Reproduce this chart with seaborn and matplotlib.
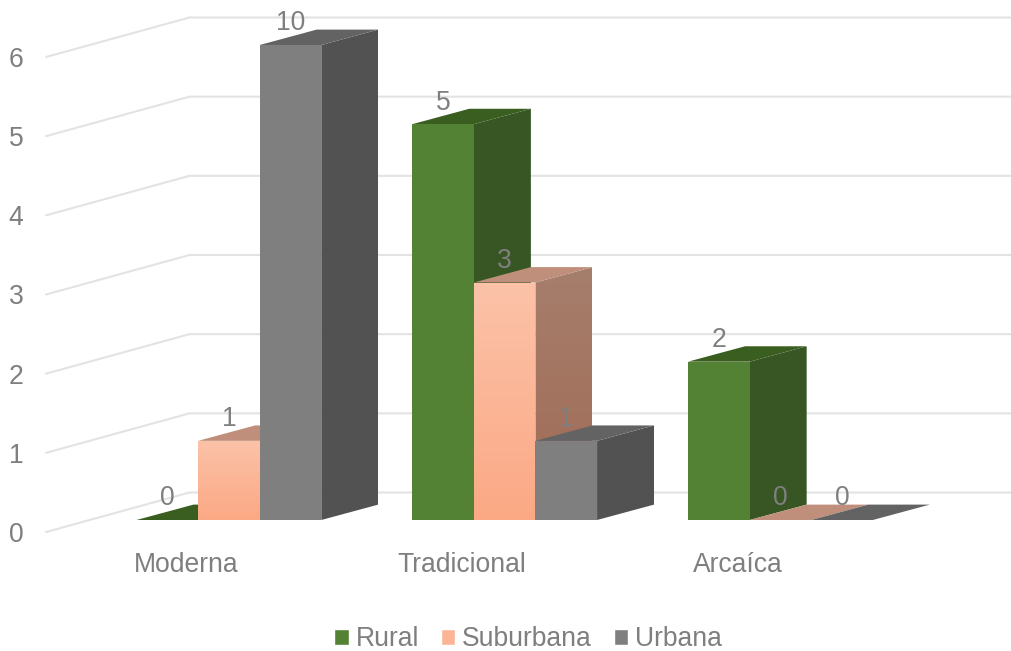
"""Excel-style 3D clustered column chart: Moderna / Tradicional / Arcaica."""
import matplotlib

matplotlib.use("Agg")
import matplotlib.pyplot as plt
import numpy as np
import pandas as pd
import seaborn as sns
from matplotlib.colors import to_rgb
from matplotlib.patches import Polygon
from matplotlib.transforms import ScaledTranslation

categories = ["Moderna", "Tradicional", "Arcaíca"]
series_names = ["Rural", "Suburbana", "Urbana"]
rural = [0, 5, 2]
suburbana = [1, 3, 0]
urbana = [10, 1, 0]
y_ticks = [0, 1, 2, 3, 4, 5, 6]
y_max = 6

TEXT = "#7f7f7f"
GRID = "#e3e3e3"
FONT_SIZE = 19.1
# front top, front bottom, side top, side bottom, roof
FACES = {
    "Rural": ("#548235", "#548235", "#375623", "#375623", "#3a5d20"),
    "Suburbana": ("#fbc2a8", "#fba985", "#a67e6c", "#a06b55", "#bf8f7b"),
    "Urbana": ("#7f7f7f", "#7f7f7f", "#525252", "#525252", "#636363"),
}

sns.set_theme(style="white")
plt.rcParams["font.family"] = ["Liberation Sans", "DejaVu Sans"]
plt.rcParams["font.size"] = FONT_SIZE

rows = []
for name, values in zip(series_names, [rural, suburbana, urbana]):
    for cat, val in zip(categories, values):
        rows.append({"category": cat, "series": name, "value": val})
df = pd.DataFrame(rows)
# the value axis stops at 6, taller bars are cut there but keep their label
df["drawn"] = df["value"].clip(upper=y_max)

fig = plt.figure(figsize=(10.11, 6.51), dpi=100)
ax = fig.add_axes([40 / 1011, (651 - 520) / 651, 971 / 1011, 475 / 651])
sns.barplot(
    data=df,
    x="category",
    y="drawn",
    hue="series",
    order=categories,
    hue_order=series_names,
    palette={"Rural": "#548235", "Suburbana": "#fbb596", "Urbana": "#7f7f7f"},
    saturation=1,
    width=0.67,
    gap=0,
    errorbar=None,
    ax=ax,
)
XLIM = (-0.685, 2.836)
ax.set_xlim(*XLIM)
ax.set_ylim(0, y_max)
ax.set_xlabel("")
ax.set_ylabel("")
sns.despine(ax=ax, left=True, bottom=True)
ax.patch.set_alpha(0)

# depth of the bars and of the side wall, pixels converted to data units
inv = ax.transData.inverted()
origin = inv.transform((0, 0))
bar_dx, bar_dy = inv.transform((57, 15.4)) - origin
wall_dx, wall_dy = inv.transform((143.5, 39.5)) - origin
drop = (inv.transform((0, 12)) - origin)[1]
left_x = inv.transform((46, 0))[0]
right_x = ax.get_xlim()[1]


def gradient_face(points, top, bottom, zorder):
    poly = Polygon(points, closed=True, transform=ax.transData, facecolor="none", edgecolor="none")
    ax.add_patch(poly)
    pts = np.array(points)
    colours = np.linspace(to_rgb(top), to_rgb(bottom), 64).reshape(64, 1, 3)
    img = ax.imshow(
        colours,
        extent=(pts[:, 0].min(), pts[:, 0].max(), pts[:, 1].min(), pts[:, 1].max()),
        aspect="auto",
        zorder=zorder,
        interpolation="nearest",
    )
    img.set_clip_path(poly)
    # images stop at the axes box otherwise, the depth goes above it
    img.set_clip_box(fig.bbox)


# side wall and back wall gridlines
for v in y_ticks:
    ax.plot(
        [left_x, left_x + wall_dx, right_x],
        [v - drop, v - drop + wall_dy, v - drop + wall_dy],
        color=GRID,
        lw=1.5,
        zorder=1,
        clip_on=False,
        solid_joinstyle="miter",
    )

# extrude every bar, series by series so the right-hand neighbour overlaps
labels = df["value"].tolist()
for i, (bar, value, name) in enumerate(zip(ax.patches, labels, df["series"])):
    front_top, front_bottom, side_top, side_bottom, roof = FACES[name]
    z = 3 + i
    x0, x1 = bar.get_x(), bar.get_x() + bar.get_width()
    h = bar.get_height()
    if h > 0:
        gradient_face(
            [(x1, 0), (x1 + bar_dx, bar_dy), (x1 + bar_dx, h + bar_dy), (x1, h)],
            side_top,
            side_bottom,
            z,
        )
    ax.add_patch(
        Polygon(
            [(x0, h), (x1, h), (x1 + bar_dx, h + bar_dy), (x0 + bar_dx, h + bar_dy)],
            closed=True,
            facecolor=roof,
            edgecolor="none",
            zorder=z + 0.1,
            clip_on=False,
        )
    )
    bar.set_zorder(z + 0.2)
    bar.set_linewidth(0)
    if h > 0:
        gradient_face([(x0, 0), (x1, 0), (x1, h), (x0, h)], front_top, front_bottom, z + 0.3)
    ax.annotate(
        str(value),
        xy=((x0 + x1) / 2, h),
        xytext=(0, 15.5),
        textcoords="offset points",
        ha="center",
        va="center",
        color=TEXT,
        fontsize=FONT_SIZE,
        zorder=40,
        annotation_clip=False,
    )

ax.set_xlim(*XLIM)
ax.set_ylim(0, y_max)

# tick labels sit on the front edge of the floor, not under the columns
ax.set_yticks(y_ticks)
ax.tick_params(axis="y", length=0, pad=12, labelsize=FONT_SIZE, labelcolor=TEXT)
ax.tick_params(axis="x", length=0, pad=23, labelsize=FONT_SIZE, labelcolor=TEXT)
for lab in ax.get_yticklabels():
    lab.set_transform(lab.get_transform() + ScaledTranslation(0, -12 / 100, fig.dpi_scale_trans))
for lab in ax.get_xticklabels():
    lab.set_transform(lab.get_transform() + ScaledTranslation(-43 / 100, 0, fig.dpi_scale_trans))

sns.move_legend(
    ax,
    "center",
    bbox_to_anchor=(528 / 1011, 1 - 639.5 / 651),
    bbox_transform=fig.transFigure,
    ncol=3,
    frameon=False,
    title=None,
    fontsize=FONT_SIZE,
    labelcolor=TEXT,
    handlelength=0.55,
    handleheight=0.55,
    handletextpad=0.26,
    columnspacing=0.82,
)

fig.savefig("out.png", dpi=100)
